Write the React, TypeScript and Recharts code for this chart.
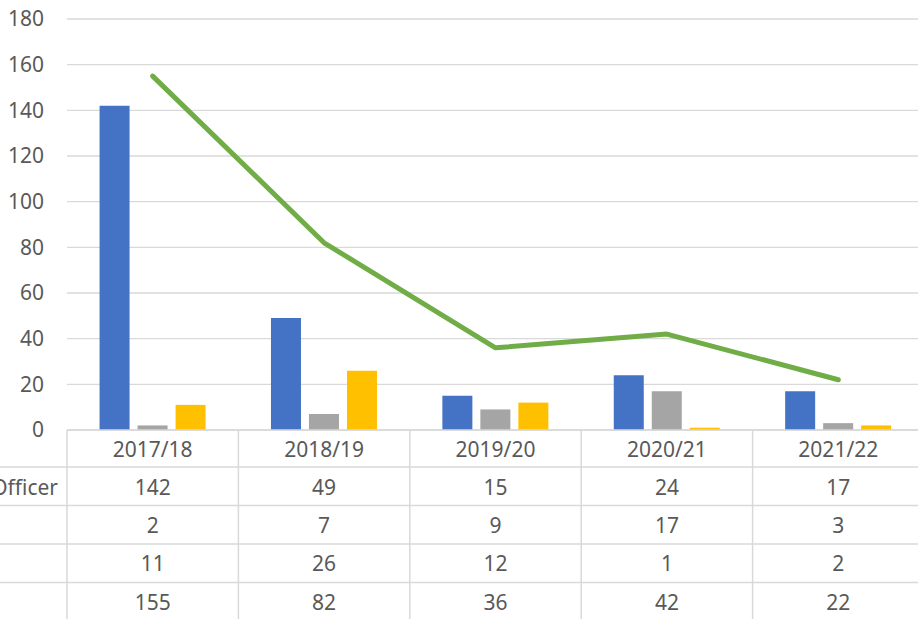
import React from "react";
import { ComposedChart, Bar, Line, XAxis, YAxis, CartesianGrid } from "recharts";

const categories = ["2017/18", "2018/19", "2019/20", "2020/21", "2021/22"];
const officerSeries = [142, 49, 15, 24, 17];
const graySeries = [2, 7, 9, 17, 3];
const yellowSeries = [11, 26, 12, 1, 2];
const totalSeries = [155, 82, 36, 42, 22];
const rowLabels = ["Officer", "", "", ""];
const yTicks = [0, 20, 40, 60, 80, 100, 120, 140, 160, 180];

const data = categories.map((c, i) => ({
  name: c,
  officer: officerSeries[i],
  gray: graySeries[i],
  yellow: yellowSeries[i],
  total: totalSeries[i],
}));

const TEXT = "#595959";
const GRID = "#D9D9D9";
const FONT = "'Noto Sans', sans-serif";
const FS = 21;

const rowBottoms = [37, 75.5, 114, 152.5, 191];
const rowCenters = [19, 57, 95, 133, 171.5];

function TableTick(props: any) {
  const { x, y, payload } = props;
  const i: number = payload?.index ?? props.index ?? 0;
  const half: number = payload?.offset ? payload.offset : 85.6;
  const left = x - half;
  const right = x + half;
  const vals = [officerSeries[i], graySeries[i], yellowSeries[i], totalSeries[i]];
  return (
    <g>
      <line x1={left} x2={left} y1={y} y2={y + 200} stroke={GRID} strokeWidth={1.5} />
      {i === categories.length - 1 && (
        <line x1={right} x2={right} y1={y} y2={y + 200} stroke={GRID} strokeWidth={1.5} />
      )}
      <text x={x} y={y + rowCenters[0]} textAnchor="middle" dominantBaseline="central" fill={TEXT} fontSize={FS} fontFamily={FONT}>
        {payload.value}
      </text>
      {vals.map((v, r) => (
        <g key={r}>
          <line x1={left} x2={right} y1={y + rowBottoms[r]} y2={y + rowBottoms[r]} stroke={GRID} strokeWidth={1.5} />
          <text x={x} y={y + rowCenters[r + 1]} textAnchor="middle" dominantBaseline="central" fill={TEXT} fontSize={FS} fontFamily={FONT}>
            {v}
          </text>
        </g>
      ))}
      {i === 0 &&
        rowLabels.map((lab, r) => (
          <g key={"l" + r}>
            <line x1={0} x2={left} y1={y + rowBottoms[r]} y2={y + rowBottoms[r]} stroke={GRID} strokeWidth={1.5} />
            <text x={left - 9} y={y + rowCenters[r + 1]} textAnchor="end" dominantBaseline="central" fill={TEXT} fontSize={FS} fontFamily={FONT}>
              {lab}
            </text>
          </g>
        ))}
    </g>
  );
}

export default function App() {
  return (
    <div style={{ position: "absolute", left: 0, top: 0, width: 918, height: 619, overflow: "hidden", background: "#fff" }}>
      <ComposedChart
        width={924}
        height={619}
        data={data}
        margin={{ top: 19, right: 0, bottom: 0, left: 0 }}
        barCategoryGap="19%"
        barGap={8}
      >
        <CartesianGrid horizontal vertical={false} stroke={GRID} strokeWidth={1.3} />
        <XAxis
          dataKey="name"
          height={189}
          interval={0}
          tickSize={0}
          tickMargin={0}
          tickLine={false}
          axisLine={{ stroke: GRID, strokeWidth: 1.5 }}
          tick={<TableTick />}
        />
        <YAxis
          width={67}
          domain={[0, 180]}
          ticks={yTicks}
          interval={0}
          axisLine={false}
          tickLine={false}
          tickSize={0}
          tickMargin={23}
          tick={{ fill: TEXT, fontSize: FS, fontFamily: FONT }}
        />
        <Bar dataKey="officer" fill="#4472C4" isAnimationActive={false} />
        <Bar dataKey="gray" fill="#A5A5A5" isAnimationActive={false} />
        <Bar dataKey="yellow" fill="#FFC000" isAnimationActive={false} />
        <Line
          dataKey="total"
          stroke="#70AD47"
          strokeWidth={5}
          strokeLinecap="round"
          strokeLinejoin="round"
          dot={false}
          activeDot={false}
          isAnimationActive={false}
        />
      </ComposedChart>
    </div>
  );
}
